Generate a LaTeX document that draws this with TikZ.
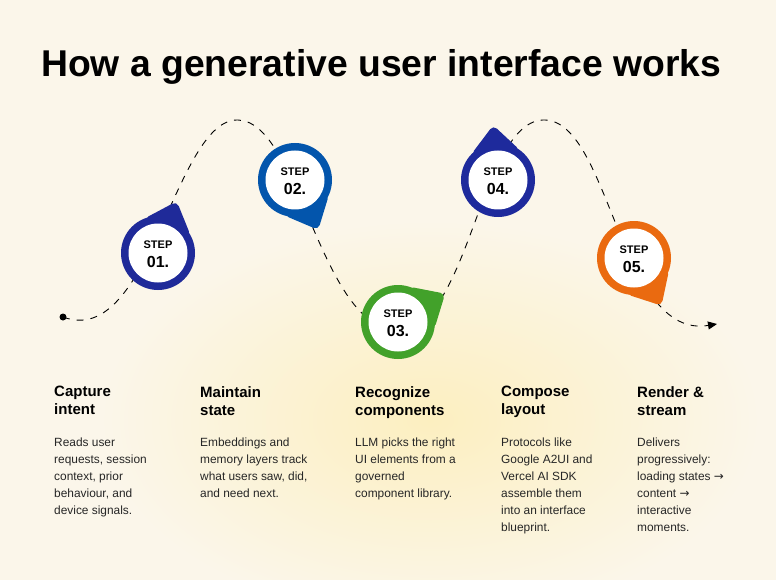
\documentclass[tikz,border=0pt]{standalone}
\usepackage{fontspec}
\setmainfont{Liberation Sans}
\newfontfamily\arr{DejaVu Sans}
\usetikzlibrary{calc,arrows.meta}
\definecolor{cA}{HTML}{1F2A99}
\definecolor{cB}{HTML}{0355AC}
\definecolor{cC}{HTML}{42A12A}
\definecolor{cD}{HTML}{1E2A9C}
\definecolor{cE}{HTML}{EA6A10}
\definecolor{bg}{HTML}{FBF6EA}
\definecolor{yl}{HTML}{FCEFC0}
\tikzset{
  head/.style={anchor=north west,align=left,font=\bfseries\fontsize{15}{18}\selectfont,text=black,inner sep=0pt},
  body/.style={anchor=north west,align=left,font=\fontsize{11.9}{17}\selectfont,text=black!85,inner sep=0pt},
  steplbl/.style={inner sep=0pt,font=\bfseries\fontsize{11}{12}\selectfont},
  numlbl/.style={inner sep=0pt,font=\bfseries\fontsize{16}{18}\selectfont}
}
\newcommand{\pin}[5]{% name, x, y, angle (screen, ccw), color
  \coordinate (#1) at (#2,#3);
  \fill[#5] (#1) circle[radius=37];
  \fill[#5,rounded corners=5pt] ($(#1)+(-#4-42:37)$) -- ($(#1)+(-#4:55)$) -- ($(#1)+(-#4+42:37)$) -- cycle;
  \fill[white] (#1) circle[radius=29.5];
}
\begin{document}
\begin{tikzpicture}[x=1pt,y=-1pt]
\useasboundingbox (0,0) rectangle (776,580);
\fill[bg] (0,0) rectangle (776,580);
\begin{scope}
\clip (0,0) rectangle (776,580);
\shade[inner color=yl,outer color=bg] (430,420) ellipse[x radius=330,y radius=200];
\end{scope}
\node[anchor=base west,inner sep=0pt,font=\bfseries\fontsize{37.3}{40}\selectfont,text=black] (title) at (41,77) {How a generative user interface works};
\fill (63,317) circle[radius=3.5];
\coordinate (start) at (63,317);
\coordinate (endp) at (717,324);
\draw[dash pattern=on 7pt off 7pt,line width=0.9pt,-{Triangle[length=9pt,width=8pt]}] (start)
  .. controls (150,350) and (175,118) .. (238,120)
  .. controls (300,122) and (320,330) .. (398,330)
  .. controls (470,330) and (480,118) .. (545,120)
  .. controls (610,122) and (620,340) .. (endp);
\pin{p1}{158}{253}{70}{cA}
\pin{p2}{295}{180}{-65}{cB}
\pin{p3}{398}{322}{31}{cC}
\pin{p4}{498}{180}{95}{cD}
\pin{p5}{634}{258}{-60}{cE}
\foreach \p/\n in {p1/01,p2/02,p3/03,p4/04,p5/05}{
  \node[steplbl] at ($(\p)+(0,-8)$) {STEP};
  \node[numlbl] at ($(\p)+(0,9)$) {\n.};
}
\node[head] (h1) at (54,386) {Capture\\intent};
\node[head] (h2) at (200,386) {Maintain\\state};
\node[head] (h3) at (355,386) {Recognize\\components};
\node[head] (h4) at (501,386) {Compose\\layout};
\node[head] (h5) at (637,386) {Render \&\\stream};
\node[body] (b1) at (54,438) {Reads user\\requests, session\\context, prior\\behaviour, and\\device signals.};
\node[body] (b2) at (200,438) {Embeddings and\\memory layers track\\what users saw, did,\\and need next.};
\node[body] (b3) at (355,438) {LLM picks the right\\UI elements from a\\governed\\component library.};
\node[body] (b4) at (501,438) {Protocols like\\Google A2UI and\\Vercel AI SDK\\assemble them\\into an interface\\blueprint.};
\node[body] (b5) at (637,438) {Delivers\\progressively:\\loading states {\arr →}\\content {\arr →}\\interactive\\moments.};
\end{tikzpicture}
\end{document}
